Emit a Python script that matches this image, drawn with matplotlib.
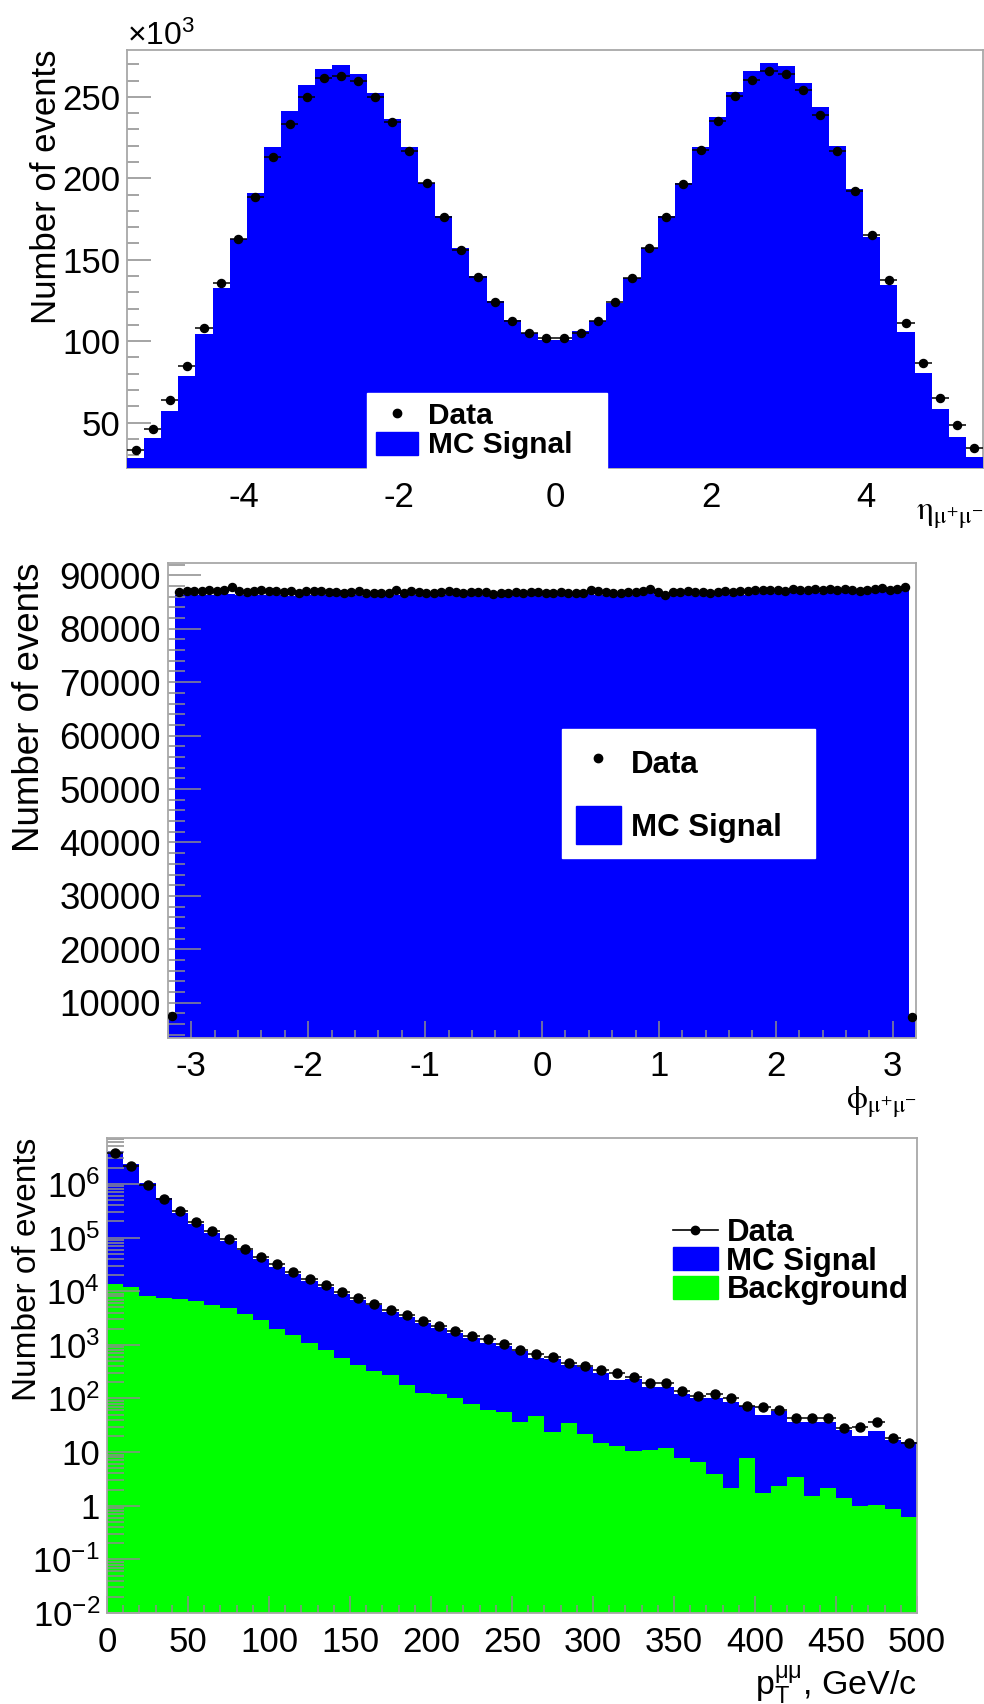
import numpy as np
import matplotlib as mpl
mpl.use('Agg')
import matplotlib.pyplot as plt
from matplotlib.lines import Line2D
from matplotlib.patches import Patch
from matplotlib.ticker import MultipleLocator, FuncFormatter, LogLocator, NullFormatter

plt.rcParams['font.family'] = ['Liberation Sans', 'DejaVu Sans']
plt.rcParams['axes.unicode_minus'] = False
plt.rcParams['mathtext.fontset'] = 'custom'
plt.rcParams['mathtext.rm'] = 'Liberation Sans'
plt.rcParams['mathtext.it'] = 'Liberation Sans:italic'
plt.rcParams['mathtext.bf'] = 'Liberation Sans:bold'

# ---- dimuon pseudorapidity, 50 bins in [-5.5, 5.5], counts in thousands
eta_edges = np.linspace(-5.5, 5.5, 51)
mc_eta = [28.1, 40.4, 57.3, 78.6, 104.2, 132.8, 162.5, 191.1, 219.3, 241.2,
          257.6, 267.4, 269.4, 263.9, 252.5, 236.7, 219.3, 197.2, 176.8, 157.0,
          140.0, 124.5, 113.0, 105.0, 101.0, 101.0, 106.0, 112.6, 123.6, 138.5,
          157.0, 176.8, 197.2, 219.3, 237.7, 252.9, 265.7, 271.0, 268.8, 258.6,
          243.5, 219.7, 193.6, 164.1, 134.5, 105.8, 80.2, 58.2, 41.4, 28.7]
data_eta = [33.2, 46.1, 63.9, 84.8, 108.3, 135.5, 162.5, 188.6, 213.2, 233.6,
            250.0, 261.7, 262.7, 259.6, 250.0, 234.5, 216.9, 197.2, 176.4, 155.9,
            139.6, 124.2, 112.6, 105.2, 101.7, 101.7, 104.8, 112.6, 123.8, 138.5,
            156.9, 176.4, 196.4, 217.3, 235.1, 250.6, 260.6, 266.0, 264.3, 254.1,
            238.8, 216.9, 192.3, 165.1, 137.5, 111.3, 86.4, 65.3, 48.2, 34.3]

# ---- dimuon azimuth, 100 bins in [-3.2, 3.2]
phi_edges = np.linspace(-3.2, 3.2, 101)
mc_phi = [7300,
          86300, 86400, 86300, 86400, 86300, 86400, 86800, 86500, 86300,
          86400, 86300, 86400, 86300, 86400, 86300, 86200, 86400, 86300, 86400,
          86300, 86400, 86700, 87300, 86400, 86300, 86200, 86300, 86400, 86800,
          86400, 86300, 86400, 86300, 86200, 86300, 86400, 86300, 86400, 86300,
          86300, 86200, 86300, 86200, 86300, 86200, 86300, 86200, 86300, 86300,
          86300, 86200, 86300, 86400, 86300, 86200, 86500, 86400, 86300, 86300,
          86300, 86400, 86300, 86400, 86800, 86400, 86100, 86300, 86400, 86500,
          86200, 86400, 86300, 86400, 86500, 86300, 86400, 86400, 86500, 86600,
          86600, 86700, 86600, 86800, 86700, 86700, 86800, 86700, 86900, 86800,
          86800, 86900, 86700, 86800, 86900, 87000, 86900, 87000, 87200,
          7300]
data_phi = [7450,
            86900, 87000, 87100, 87000, 87200, 87100, 87300, 87900, 87000,
            86800, 87100, 87200, 87000, 87100, 86900, 87000, 86700, 87000, 87100,
            87000, 86900, 86800, 86700, 86900, 87000, 86700, 86600, 86600, 86700,
            87200, 86700, 87000, 86900, 86700, 86600, 86800, 87000, 86900, 86700,
            86800, 86900, 86800, 86500, 86700, 86600, 86800, 86700, 86900, 86800,
            86700, 86600, 86800, 86700, 86600, 86700, 87200, 87100, 86800, 86700,
            86700, 86900, 86800, 87000, 87400, 86900, 86300, 86800, 86900, 87000,
            86900, 86800, 86700, 86800, 87000, 86900, 87100, 87000, 87200, 87300,
            87200, 87300, 87100, 87400, 87200, 87300, 87400, 87200, 87500, 87300,
            87400, 87300, 87100, 87200, 87400, 87600, 87300, 87500, 87900,
            7400]

# ---- dimuon transverse momentum, 10 GeV/c bins
pt_edges = np.arange(0, 510, 10)
stack_pt = [4.07e6, 2.34e6, 1.05e6, 5.5e5, 2.88e5, 1.82e5, 1.23e5, 8.5e4, 5.75e4, 4.07e4,
            2.88e4, 2.09e4, 1.58e4, 1.2e4, 8710, 6920, 5500, 4170, 3310, 2570,
            2040, 1660, 1350, 1100, 955, 776, 575, 550, 427, 380,
            302, 219, 229, 166, 162, 123, 100, 100, 85, 71,
            49, 58, 37, 37, 37, 26, 20, 25, 17, 15.5]
bkg_pt = [13600, 11900, 8020, 7520, 7130, 6550, 5520, 4890, 3720, 2880,
          1990, 1540, 1090, 815, 581, 428, 331, 270, 182, 129,
          119, 100, 80, 60, 55, 37, 48, 24, 35, 22,
          15, 13, 10.5, 10.9, 11.9, 7.7, 6.5, 3.9, 2.15, 7.7,
          1.73, 2.35, 3.4, 1.54, 2.15, 1.41, 0.97, 1.04, 0.87, 0.62]
data_pt = [3.81e6, 2.17e6, 9.7e5, 5.26e5, 3.16e5, 1.99e5, 1.35e5, 9.25e4, 6.24e4, 4.44e4,
           3.16e4, 2.28e4, 1.68e4, 1.28e4, 9550, 7400, 5820, 4510, 3610, 2800,
           2240, 1790, 1490, 1280, 1040, 805, 678, 603, 466, 406,
           343, 304, 248, 192, 192, 136, 109, 119, 100, 74,
           69, 62, 43, 43, 44, 28, 29, 36, 18, 15]

BLUE = '#0000ff'
GREEN = '#00ff00'
W, H = 984, 1704


def box(l, t, r, b):
    return [l / W, 1 - b / H, (r - l) / W, (b - t) / H]


def style(ax, ylen=17, size=25):
    for s in ax.spines.values():
        s.set_color('#a8a8a8')
        s.set_linewidth(1.3)
    ax.tick_params(which='both', direction='in', top=False, right=False,
                   color='#8c8c8c', labelcolor='black', labelsize=size, width=1.1)
    ax.tick_params(axis='y', which='major', length=ylen, pad=5)
    ax.tick_params(axis='y', which='minor', length=ylen / 2)
    ax.tick_params(axis='x', which='major', length=12, pad=9)
    ax.tick_params(axis='x', which='minor', length=6)


def centers(edges):
    return 0.5 * (edges[1:] + edges[:-1])


fig = plt.figure(figsize=(W / 100, H / 100), dpi=100)

# eta panel
ax1 = fig.add_axes(box(127, 50, 983, 468))
style(ax1)
ax1.stairs(np.array(mc_eta) * 1000, eta_edges, fill=True, color=BLUE, zorder=3)
ax1.errorbar(centers(eta_edges), np.array(data_eta) * 1000, xerr=np.diff(eta_edges) / 2,
             fmt='o', color='black', ms=5.8, elinewidth=1.1, capsize=0, zorder=4)
ax1.set_xlim(-5.5, 5.5)
ax1.set_ylim(22100, 278800)
ax1.xaxis.set_major_locator(MultipleLocator(2))
ax1.xaxis.set_minor_locator(MultipleLocator(0.4))
ax1.yaxis.set_major_locator(MultipleLocator(50000))
ax1.yaxis.set_minor_locator(MultipleLocator(10000))
ax1.yaxis.set_major_formatter(FuncFormatter(lambda v, p: '%d' % round(v / 1000)))
ax1.legend([Line2D([], [], ls='none', marker='o', color='black', ms=6), Patch(color=BLUE)],
           ['Data', 'MC Signal'], loc='upper left', bbox_to_anchor=(0.2804, 0.1794, 0.2804, 0),
           mode='expand', prop={'weight': 'bold', 'size': 21.5}, frameon=True,
           fancybox=False, edgecolor='white', framealpha=1, borderpad=0.3,
           handlelength=1.4, handleheight=0.8, handletextpad=0.35,
           labelspacing=0.05, borderaxespad=0)
fig.text(127 / W, 1 - 45 / H, r'×$\mathregular{10^{3}}$', ha='left', va='baseline', size=23)
fig.text(47 / W, 1 - 50 / H, 'Number of events', rotation=90, ha='center', va='top', size=25)
fig.text(983 / W, 1 - 500 / H, r'$\mathrm{η}_{\mathrm{μ}^{+}\mathrm{μ}^{-}}$',
         math_fontfamily='stix', ha='right', va='top', size=24)

# phi panel
ax2 = fig.add_axes(box(168, 563, 916, 1038))
style(ax2, ylen=24, size=26.5)
ax2.stairs(mc_phi, phi_edges, fill=True, color=BLUE)
ax2.errorbar(centers(phi_edges), data_phi, xerr=np.diff(phi_edges) / 2,
             fmt='o', color='black', ms=5.8, elinewidth=1.1, capsize=0, zorder=4)
ax2.set_xlim(-3.2, 3.2)
ax2.set_ylim(3400, 92300)
ax2.xaxis.set_major_locator(MultipleLocator(1))
ax2.xaxis.set_minor_locator(MultipleLocator(0.2))
ax2.yaxis.set_major_locator(MultipleLocator(10000))
ax2.yaxis.set_minor_locator(MultipleLocator(2000))
ax2.yaxis.set_major_formatter(FuncFormatter(lambda v, p: '%d' % v))
ax2.tick_params(axis='x', labelsize=25)
ax2.legend([Line2D([], [], ls='none', marker='o', color='black', ms=6), Patch(color=BLUE)],
           ['Data', 'MC Signal'], loc='upper left', bbox_to_anchor=(0.5261, 0.6503, 0.3388, 0),
           mode='expand', prop={'weight': 'bold', 'size': 22.5}, frameon=True,
           fancybox=False, edgecolor='white', framealpha=1, borderpad=0.45,
           handlelength=1.45, handleheight=1.5, handletextpad=0.32,
           labelspacing=0.8, borderaxespad=0)
fig.text(30 / W, 1 - 563 / H, 'Number of events', rotation=90, ha='center', va='top', size=26.5)
fig.text(917 / W, 1 - 1084 / H, r'$\mathrm{ϕ}_{\mathrm{μ}^{+}\mathrm{μ}^{-}}$',
         math_fontfamily='stix', ha='right', va='top', size=24)

# pT panel
ax3 = fig.add_axes(box(107, 1138, 917, 1613))
style(ax3, ylen=24)
ax3.set_yscale('log')
ax3.stairs(stack_pt, pt_edges, fill=True, color=BLUE, baseline=1e-3)
ax3.stairs(bkg_pt, pt_edges, fill=True, color=GREEN, baseline=1e-3)
ax3.errorbar(centers(pt_edges), data_pt, xerr=np.diff(pt_edges) / 2,
             fmt='o', color='black', ms=6.5, elinewidth=1.1, capsize=0, zorder=4)
ax3.set_xlim(0, 500)
ax3.set_ylim(0.01, 7.2e6)
ax3.xaxis.set_major_locator(MultipleLocator(50))
ax3.xaxis.set_minor_locator(MultipleLocator(10))
ax3.yaxis.set_major_locator(LogLocator(base=10, numticks=20))
ax3.yaxis.set_minor_locator(LogLocator(base=10, subs=np.arange(2, 10), numticks=100))
ax3.yaxis.set_minor_formatter(NullFormatter())


def log_fmt(v, pos):
    e = int(round(np.log10(v)))
    if e == 0:
        return '1'
    if e == 1:
        return '10'
    return r'$\mathregular{10^{%d}}$' % e


ax3.yaxis.set_major_formatter(FuncFormatter(log_fmt))
ax3.legend([Line2D([], [], color='black', marker='o', ms=6, lw=1.2),
            Patch(color=BLUE), Patch(color=GREEN)],
           ['Data', 'MC Signal', 'Background'], loc='upper left',
           bbox_to_anchor=(0.6988, 0.8311), prop={'weight': 'bold', 'size': 22.5},
           frameon=False, borderpad=0, handlelength=1.43, handleheight=0.76,
           handletextpad=0.28, labelspacing=-0.05, borderaxespad=0)
fig.text(28 / W, 1 - 1138 / H, 'Number of events', rotation=90, ha='center', va='top', size=24)
fig.text(917 / W, 1 - 1695 / H, r'$\mathregular{p_{T}^{μμ}}$, GeV/c',
         ha='right', va='baseline', size=24.5)

fig.savefig('out.png', dpi=100)
